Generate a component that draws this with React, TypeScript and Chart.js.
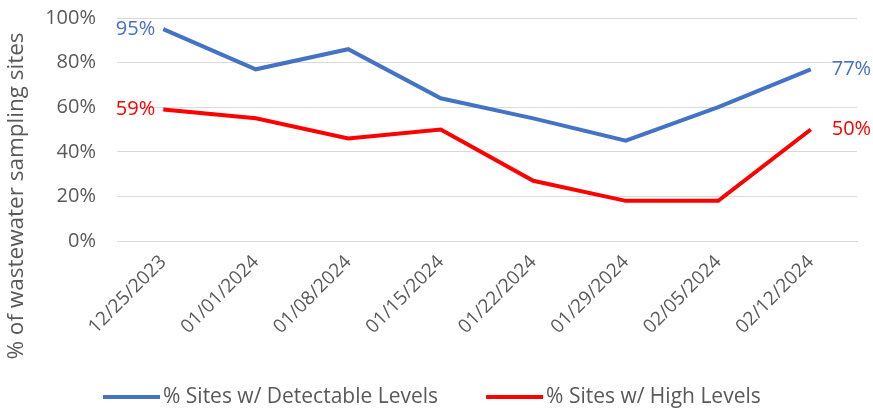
import React, { useEffect, useRef } from "react";
import { Chart, registerables } from "chart.js";

Chart.register(...registerables);

const categories = ["12/25/2023", "01/01/2024", "01/08/2024", "01/15/2024", "01/22/2024", "01/29/2024", "02/05/2024", "02/12/2024"];
const detectable = [95, 77, 86, 64, 55, 45, 60, 77];
const high = [59, 55, 46, 50, 27, 18, 18, 50];
const yTicks = [0, 20, 40, 60, 80, 100];
const yTitle = "% of wastewater sampling sites";

const FONT = "'Open Sans', sans-serif";
const BLUE = "#4472C4";
const RED = "#FF0000";
const GREY = "#595959";

const endLabels = {
  id: "endLabels",
  afterDatasetsDraw(chart: any) {
    const ctx = chart.ctx;
    ctx.save();
    ctx.font = `20px ${FONT}`;
    ctx.textBaseline = "middle";
    chart.data.datasets.forEach((ds: any, i: number) => {
      const meta = chart.getDatasetMeta(i);
      const first = meta.data[0];
      const last = meta.data[meta.data.length - 1];
      ctx.fillStyle = ds.borderColor;
      ctx.textAlign = "right";
      ctx.fillText(`${ds.data[0]}%`, first.x - 8, first.y);
      ctx.textAlign = "left";
      ctx.fillText(`${ds.data[ds.data.length - 1]}%`, last.x + 21, last.y);
    });
    ctx.restore();
  },
};

const extras = {
  id: "extras",
  afterDraw(chart: any) {
    const ctx = chart.ctx;
    ctx.save();
    // y-axis title
    ctx.font = `22.5px ${FONT}`;
    ctx.fillStyle = GREY;
    ctx.textAlign = "center";
    ctx.textBaseline = "middle";
    ctx.translate(17, 196);
    ctx.rotate(-Math.PI / 2);
    ctx.fillText(yTitle, 0, 0);
    ctx.restore();

    // legend
    ctx.save();
    ctx.font = `21px ${FONT}`;
    ctx.textBaseline = "middle";
    ctx.textAlign = "left";
    let x = 103;
    const y = 397;
    chart.data.datasets.forEach((ds: any) => {
      ctx.fillStyle = ds.borderColor;
      ctx.fillRect(x, y - 2, 57, 4);
      x += 60;
      ctx.fillStyle = GREY;
      ctx.fillText(ds.label, x, y);
      x += ctx.measureText(ds.label).width + 48;
    });
    ctx.restore();
  },
};

export default function App() {
  const ref = useRef<HTMLCanvasElement>(null);
  useEffect(() => {
    if (!ref.current) return;
    const chart = new Chart(ref.current, {
      type: "line",
      data: {
        labels: categories,
        datasets: [
          {
            label: "% Sites w/ Detectable Levels",
            data: detectable,
            borderColor: BLUE,
            backgroundColor: BLUE,
            borderWidth: 4,
            pointRadius: 0,
            tension: 0,
          },
          {
            label: "% Sites w/ High Levels",
            data: high,
            borderColor: RED,
            backgroundColor: RED,
            borderWidth: 4,
            pointRadius: 0,
            tension: 0,
          },
        ],
      },
      options: {
        responsive: false,
        animation: false,
        layout: { padding: { left: 0, right: 16, top: 18, bottom: 0 } },
        scales: {
          x: {
            offset: true,
            grid: { display: false, drawTicks: false },
            border: { display: true, color: "#d9d9d9" },
            afterFit: (axis: any) => {
              axis.height = 167;
            },
            ticks: {
              maxRotation: 45,
              minRotation: 45,
              color: GREY,
              font: { family: FONT, size: 19 },
              padding: 10,
            },
          },
          y: {
            min: 0,
            max: 100,
            afterBuildTicks: (axis: any) => {
              axis.ticks = yTicks.map((v) => ({ value: v }));
            },
            afterFit: (axis: any) => {
              axis.width = 117;
              axis.paddingTop = 10;
              axis.paddingBottom = 10;
            },
            grid: { color: "#d9d9d9", drawTicks: false },
            border: { display: false },
            ticks: {
              color: GREY,
              font: { family: FONT, size: 20 },
              padding: 21,
              callback: (v: any) => `${v}%`,
            },
          },
        },
        plugins: {
          legend: { display: false },
          tooltip: { enabled: false },
        },
      },
      plugins: [endLabels, extras],
    });
    return () => chart.destroy();
  }, []);
  return (
    <div style={{ position: "fixed", left: 0, top: 0, width: 873, height: 408, background: "#fff" }}>
      <canvas ref={ref} width={873} height={408} />
    </div>
  );
}
